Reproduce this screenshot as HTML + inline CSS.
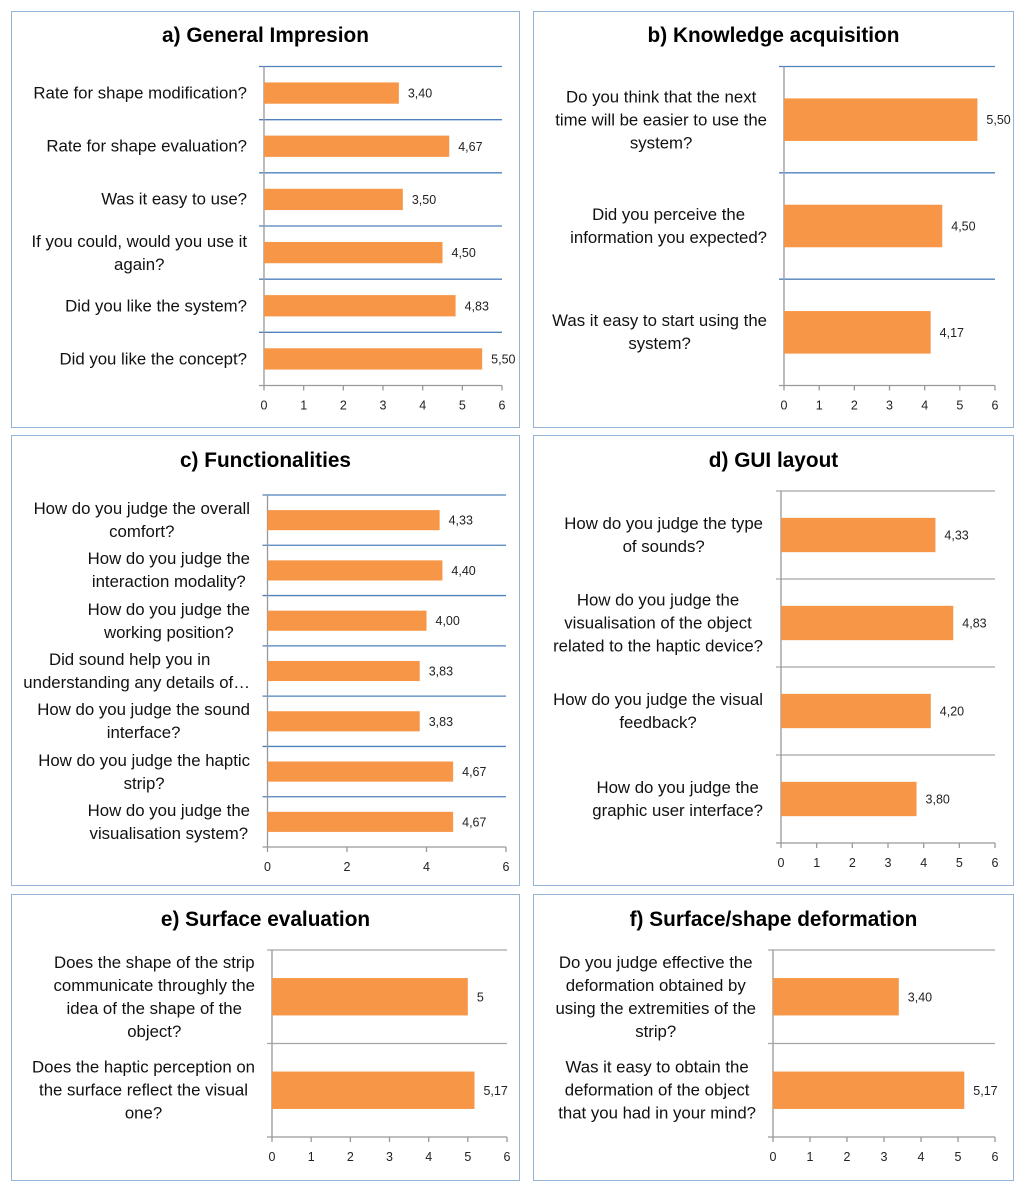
<!DOCTYPE html>
<html><head><meta charset="utf-8">
<style>
body{margin:0;background:#fff;width:1024px;height:1191px;position:relative;overflow:hidden;font-family:"Liberation Sans",sans-serif;}
.panel{position:absolute;border:1.5px solid #95b3d7;box-sizing:border-box;background:#fff;}
.title{position:absolute;font-weight:bold;font-size:20.8px;color:#000;transform:translate(-50%,-50%);white-space:nowrap;}
.lbl{position:absolute;font-size:16.8px;line-height:23px;text-align:center;white-space:nowrap;color:#111;transform:translateY(-50%);}
svg{position:absolute;left:0;top:0;}
</style></head><body>
<svg id="chart" width="1024" height="1191"></svg>
<script>
// Panel a
const catsA=["Rate for shape modification?","Rate for shape evaluation?","Was it easy to use?","If you could, would you use it<br>again?","Did you like the system?","Did you like the concept?"];
const valsA=[3.40,4.67,3.50,4.50,4.83,5.50];
const txtA=["3,40","4,67","3,50","4,50","4,83","5,50"];
const ticksA=[0,1,2,3,4,5,6];
// Panel b
const catsB=["Do you think that the next<br>time will be easier to use the<br>system?","Did you perceive the<br>information you expected?","Was it easy to start using the<br>system?"];
const valsB=[5.50,4.50,4.17];
const txtB=["5,50","4,50","4,17"];
const ticksB=[0,1,2,3,4,5,6];
// Panel c
const catsC=["How do you judge the overall<br>comfort?","How do you judge the<br>interaction modality?","How do you judge the<br>working position?","Did sound help you in<br>&nbsp;&nbsp;&nbsp;understanding any details of…","How do you judge the sound<br>interface?","How do you judge the haptic<br>strip?","How do you judge the<br>visualisation system?"];
const valsC=[4.33,4.40,4.00,3.83,3.83,4.67,4.67];
const txtC=["4,33","4,40","4,00","3,83","3,83","4,67","4,67"];
const ticksC=[0,2,4,6];
// Panel d
const catsD=["How do you judge the type<br>of sounds?","How do you judge the<br>visualisation of the object<br>related to the haptic device?","How do you judge the visual<br>feedback?","How do you judge the<br>graphic user interface?"];
const valsD=[4.33,4.83,4.20,3.80];
const txtD=["4,33","4,83","4,20","3,80"];
const ticksD=[0,1,2,3,4,5,6];
// Panel e
const catsE=["Does the shape of the strip<br>communicate throughly the<br>idea of the shape of the<br>object?","Does the haptic perception on<br>the surface reflect the visual<br>one?"];
const valsE=[5.00,5.17];
const txtE=["5","5,17"];
const ticksE=[0,1,2,3,4,5,6];
// Panel f
const catsF=["Do you judge effective the<br>deformation obtained by<br>using the extremities of the<br>strip?","Was it easy to obtain the<br>deformation of the object<br>that you had in your mind?"];
const valsF=[3.40,5.17];
const txtF=["3,40","5,17"];
const ticksF=[0,1,2,3,4,5,6];

const panels=[
 {id:"a",title:"a) General Impresion",box:[11,11,509,417],ty:36,x0:264,x1:502,top:66.5,bot:385.5,grid:"#4f81bd",bf:0.4,cats:catsA,vals:valsA,txt:txtA,ticks:ticksA,lr:247},
 {id:"b",title:"b) Knowledge acquisition",box:[533,11,481,417],ty:36,x0:784,x1:995,top:66.5,bot:385.5,grid:"#4f81bd",bf:0.4,cats:catsB,vals:valsB,txt:txtB,ticks:ticksB,lr:767},
 {id:"c",title:"c) Functionalities",box:[11,435,509,451],ty:461,x0:267.5,x1:506,top:495,bot:847,grid:"#4f81bd",bf:0.4,cats:catsC,vals:valsC,txt:txtC,ticks:ticksC,lr:250},
 {id:"d",title:"d) GUI layout",box:[533,435,481,451],ty:461,x0:781,x1:995,top:491,bot:843,grid:"#a6a6a6",bf:0.39,cats:catsD,vals:valsD,txt:txtD,ticks:ticksD,lr:763},
 {id:"e",title:"e) Surface evaluation",box:[11,894,509,287],ty:920,x0:272,x1:507,top:950,bot:1137,grid:"#a6a6a6",bf:0.4,cats:catsE,vals:valsE,txt:txtE,ticks:ticksE,lr:255},
 {id:"f",title:"f) Surface/shape deformation",box:[533,894,481,287],ty:920,x0:773,x1:995,top:950,bot:1137,grid:"#a6a6a6",bf:0.4,cats:catsF,vals:valsF,txt:txtF,ticks:ticksF,lr:756}
];
const NS="http://www.w3.org/2000/svg";
const svg=document.getElementById("chart");
function mk(tag,attrs){const e=document.createElementNS(NS,tag);for(const k in attrs)e.setAttribute(k,attrs[k]);return e;}
panels.forEach(p=>{
  const box=document.createElement("div");
  box.className="panel";
  box.style.cssText=`left:${p.box[0]}px;top:${p.box[1]}px;width:${p.box[2]}px;height:${p.box[3]}px;`;
  
  
  document.body.insertBefore(box,svg);
  const t=document.createElement("div");
  t.className="title";t.innerHTML=p.title;
  t.style.left=(p.box[0]+p.box[2]/2)+"px";t.style.top=p.ty+"px";
  
  
  document.body.appendChild(t);
  const tmax=p.ticks[p.ticks.length-1];
  const xs=v=>p.x0+(v/tmax)*(p.x1-p.x0);
  const n=p.cats.length, band=(p.bot-p.top)/n;
  const ys=i=>p.top+band*i;
  const g=mk("g",{});
  
  
  svg.appendChild(g);
  for(let i=0;i<n;i++){
    const gl=mk("line",{x1:p.x0-5,x2:p.x1,y1:ys(i),y2:ys(i),stroke:p.grid,"stroke-width":1.3});
    
    
    g.appendChild(gl);
  }
  const ax=mk("line",{x1:p.x0,x2:p.x0,y1:p.top,y2:p.bot,stroke:"#999","stroke-width":1.3});
  
  
  g.appendChild(ax);
  const bx=mk("line",{x1:p.x0-5,x2:p.x1,y1:p.bot,y2:p.bot,stroke:"#999","stroke-width":1.3});
  
  
  g.appendChild(bx);
  p.ticks.forEach(tv=>{
    const tk=mk("line",{x1:xs(tv),x2:xs(tv),y1:p.bot,y2:p.bot+5,stroke:"#999","stroke-width":1.3});
    
    
    g.appendChild(tk);
    const tl=mk("text",{x:xs(tv),y:p.bot+24,"text-anchor":"middle","font-size":"12.5","fill":"#222"});
    tl.textContent=tv;
    
    
    g.appendChild(tl);
  });
  p.vals.forEach((v,i)=>{
    const cy=ys(i)+band/2, h=band*p.bf;
    const r=mk("rect",{x:p.x0,y:cy-h/2,width:xs(v)-p.x0,height:h,fill:"#f79646"});
    
    
    g.appendChild(r);
    const vl=mk("text",{x:xs(v)+9,y:cy+4.5,"font-size":"12.5","fill":"#222"});
    vl.textContent=p.txt[i];
    
    
    g.appendChild(vl);
    const lb=document.createElement("div");
    lb.className="lbl";lb.innerHTML=p.cats[i];
    lb.style.right=(1024-p.lr)+"px";lb.style.top=cy+"px";
    
    
    document.body.appendChild(lb);
  });
});
</script>
</body></html>
